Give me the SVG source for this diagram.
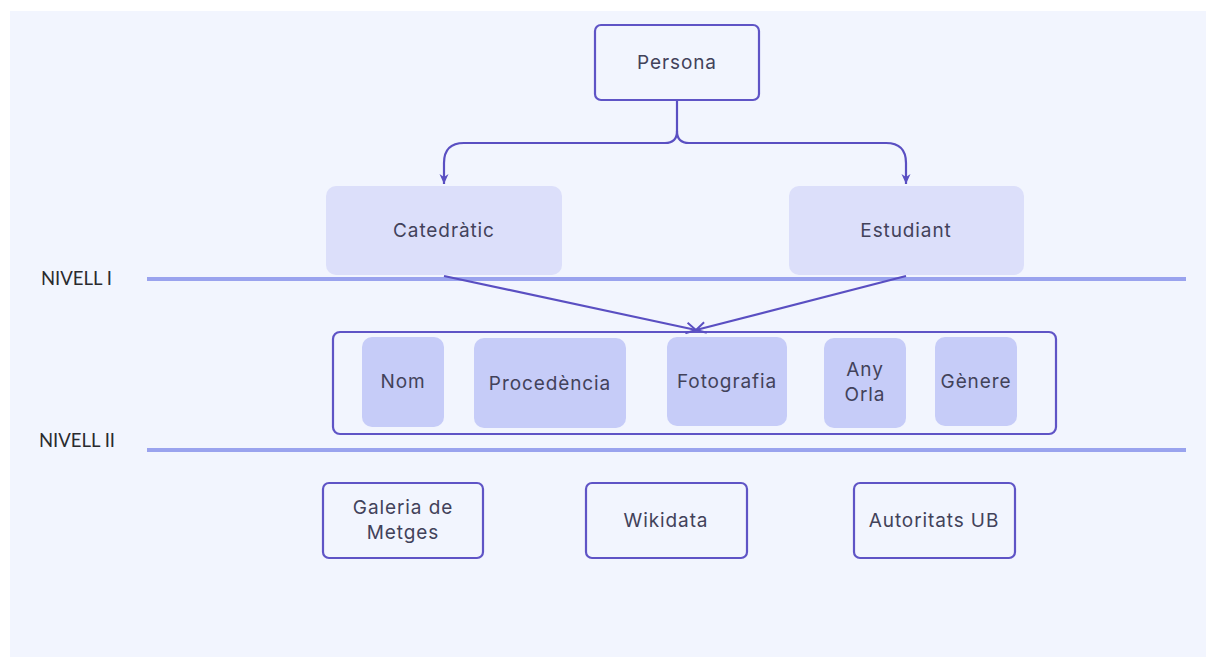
<svg xmlns="http://www.w3.org/2000/svg" width="1206" height="657" viewBox="0 0 1206 657">
<defs>
<style>
.t{font-family:Inter,"Open Sans","DejaVu Sans",sans-serif;font-size:19px;letter-spacing:0.9px;fill:#42425a;text-anchor:middle;dominant-baseline:central}
.lvl{font-family:Lato,"Liberation Sans",sans-serif;font-size:18.5px;fill:#2a2a2e;dominant-baseline:central}
.box{fill:#f2f5fe;stroke:#5f54c6;stroke-width:2.2}
.sub{fill:#dcdffa}
.attr{fill:#c6ccf8}
.conn{fill:none;stroke:#5a4fc2;stroke-width:2.2}
.lvline{stroke:#9aa3ee;stroke-width:4}
</style>
<marker id="ah" viewBox="0 0 12 12" refX="11" refY="6" markerWidth="12" markerHeight="12" orient="auto" markerUnits="userSpaceOnUse">
<path d="M1,1.5 L11,6 L1,10.5 L4,6 Z" fill="#5a4fc2"/>
</marker>
<marker id="av" viewBox="0 0 12 12" refX="11" refY="6" markerWidth="13" markerHeight="13" orient="auto" markerUnits="userSpaceOnUse">
<path d="M2,1 L11,6 L2,11" fill="none" stroke="#5a4fc2" stroke-width="1.8"/>
</marker>
</defs>
<rect x="0" y="0" width="1206" height="657" fill="#ffffff"/>
<rect x="10" y="11" width="1196" height="646" fill="#f2f5fe"/>

<g id="levels">
<line class="lvline" x1="147" y1="279" x2="1186" y2="279"/>
<line class="lvline" x1="147" y1="450" x2="1186" y2="450"/>
<text class="lvl" x="41" y="278">NIVELL I</text>
<text class="lvl" x="39" y="440">NIVELL II</text>
</g>

<g id="persona">
<rect class="box" x="595" y="25" width="164" height="75" rx="6"/>
<text class="t" x="677" y="62">Persona</text>
</g>

<g id="catedratic">
<rect class="sub" x="326" y="186" width="236" height="89" rx="10"/>
<text class="t" x="444" y="230">Catedràtic</text>
</g>

<g id="estudiant">
<rect class="sub" x="789" y="186" width="235" height="89" rx="10"/>
<text class="t" x="906" y="230">Estudiant</text>
</g>

<g id="attributes">
<rect class="box" x="333" y="332" width="723" height="102" rx="7"/>
</g>
<g id="nom">
<rect class="attr" x="362" y="337" width="82" height="90" rx="10"/>
<text class="t" x="403" y="381">Nom</text>
</g>
<g id="procedencia">
<rect class="attr" x="474" y="338" width="152" height="90" rx="10"/>
<text class="t" x="550" y="383">Procedència</text>
</g>
<g id="fotografia">
<rect class="attr" x="667" y="337" width="120" height="89" rx="10"/>
<text class="t" x="727" y="381">Fotografia</text>
</g>
<g id="anyorla">
<rect class="attr" x="824" y="338" width="82" height="90" rx="10"/>
<text class="t" x="865" y="369">Any</text>
<text class="t" x="865" y="394">Orla</text>
</g>
<g id="genere">
<rect class="attr" x="935" y="337" width="82" height="89" rx="10"/>
<text class="t" x="976" y="381">Gènere</text>
</g>

<g id="galeria">
<rect class="box" x="323" y="483" width="160" height="75" rx="6"/>
<text class="t" x="403" y="507">Galeria de</text>
<text class="t" x="403" y="532">Metges</text>
</g>
<g id="wikidata">
<rect class="box" x="586" y="483" width="161" height="75" rx="6"/>
<text class="t" x="666" y="520">Wikidata</text>
</g>
<g id="autoritats">
<rect class="box" x="854" y="483" width="161" height="75" rx="6"/>
<text class="t" x="934" y="520">Autoritats UB</text>
</g>

<g id="connectors">
<path class="conn" d="M677,101 V131 Q677,143 665,143 H464 Q444,143 444,163 V184" marker-end="url(#ah)"/>
<path class="conn" d="M677,131 Q677,143 689,143 H886 Q906,143 906,163 V184" marker-end="url(#ah)"/>
<line class="conn" x1="444" y1="276" x2="696" y2="330" marker-end="url(#av)"/>
<line class="conn" x1="906" y1="276" x2="696" y2="330" marker-end="url(#av)"/>
</g>
</svg>
